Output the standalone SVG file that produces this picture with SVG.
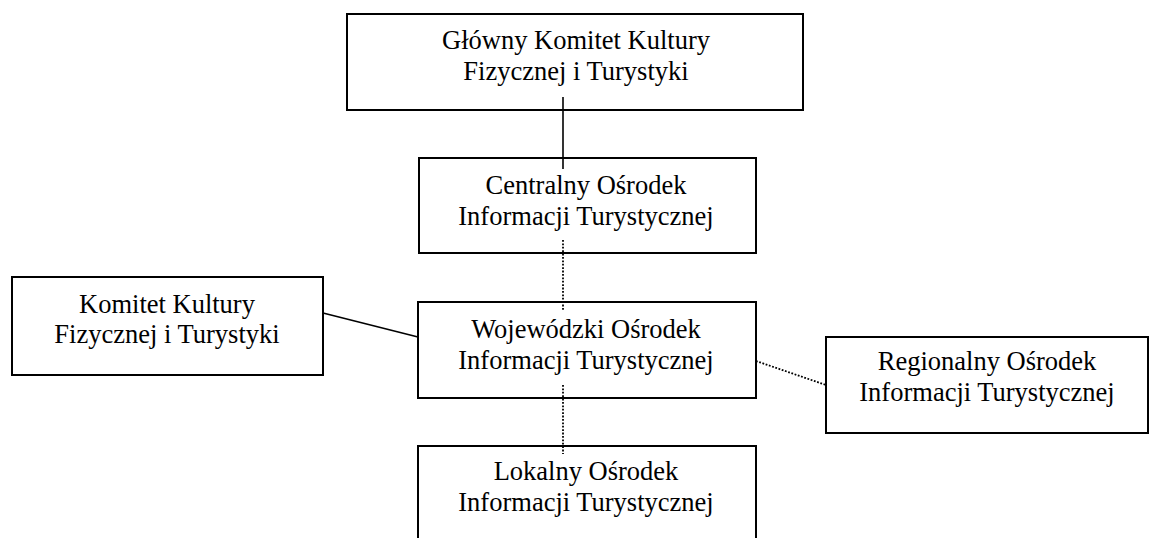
<svg xmlns="http://www.w3.org/2000/svg" width="1150" height="538" viewBox="0 0 1150 538">
<style>
.box{fill:#fff;stroke:#000;stroke-width:2}
.t{font-family:"Liberation Serif","Times New Roman",serif;font-size:26.5px;fill:#000;text-anchor:middle}
.solid{stroke:#000;stroke-width:1.6;fill:none}
.dot{stroke:#000;stroke-width:1.8;fill:none;stroke-dasharray:1.8 1.6}
</style>
<rect width="1150" height="538" fill="#fff"/>
<g id="glowny">
<rect class="box" x="347" y="14" width="456" height="96"/>
<text class="t" x="576" y="49">Główny Komitet Kultury</text>
<text class="t" x="576" y="80">Fizycznej i Turystyki</text>
</g>
<g id="centralny">
<rect class="box" x="419" y="158" width="337" height="95"/>
<text class="t" x="586" y="194">Centralny Ośrodek</text>
<text class="t" x="586" y="225">Informacji Turystycznej</text>
</g>
<g id="komitet">
<rect class="box" x="12" y="277" width="311" height="98"/>
<text class="t" x="167" y="313">Komitet Kultury</text>
<text class="t" x="167" y="343">Fizycznej i Turystyki</text>
</g>
<g id="wojewodzki">
<rect class="box" x="418" y="302" width="338" height="96"/>
<text class="t" x="586" y="338">Wojewódzki Ośrodek</text>
<text class="t" x="586" y="369">Informacji Turystycznej</text>
</g>
<g id="regionalny">
<rect class="box" x="826" y="337" width="322" height="96"/>
<text class="t" x="987" y="370">Regionalny Ośrodek</text>
<text class="t" x="987" y="401">Informacji Turystycznej</text>
</g>
<g id="lokalny">
<rect class="box" x="418" y="446" width="338" height="100"/>
<text class="t" x="586" y="480">Lokalny Ośrodek</text>
<text class="t" x="586" y="511">Informacji Turystycznej</text>
</g>
<g id="connectors">
<line class="solid" x1="563" y1="97" x2="563" y2="169"/>
<line class="dot" x1="563" y1="240" x2="563" y2="311"/>
<line class="solid" x1="323" y1="313" x2="418" y2="337"/>
<line class="dot" x1="756" y1="361" x2="826" y2="385"/>
<line class="dot" x1="563" y1="385" x2="563" y2="454"/>
</g>
</svg>
